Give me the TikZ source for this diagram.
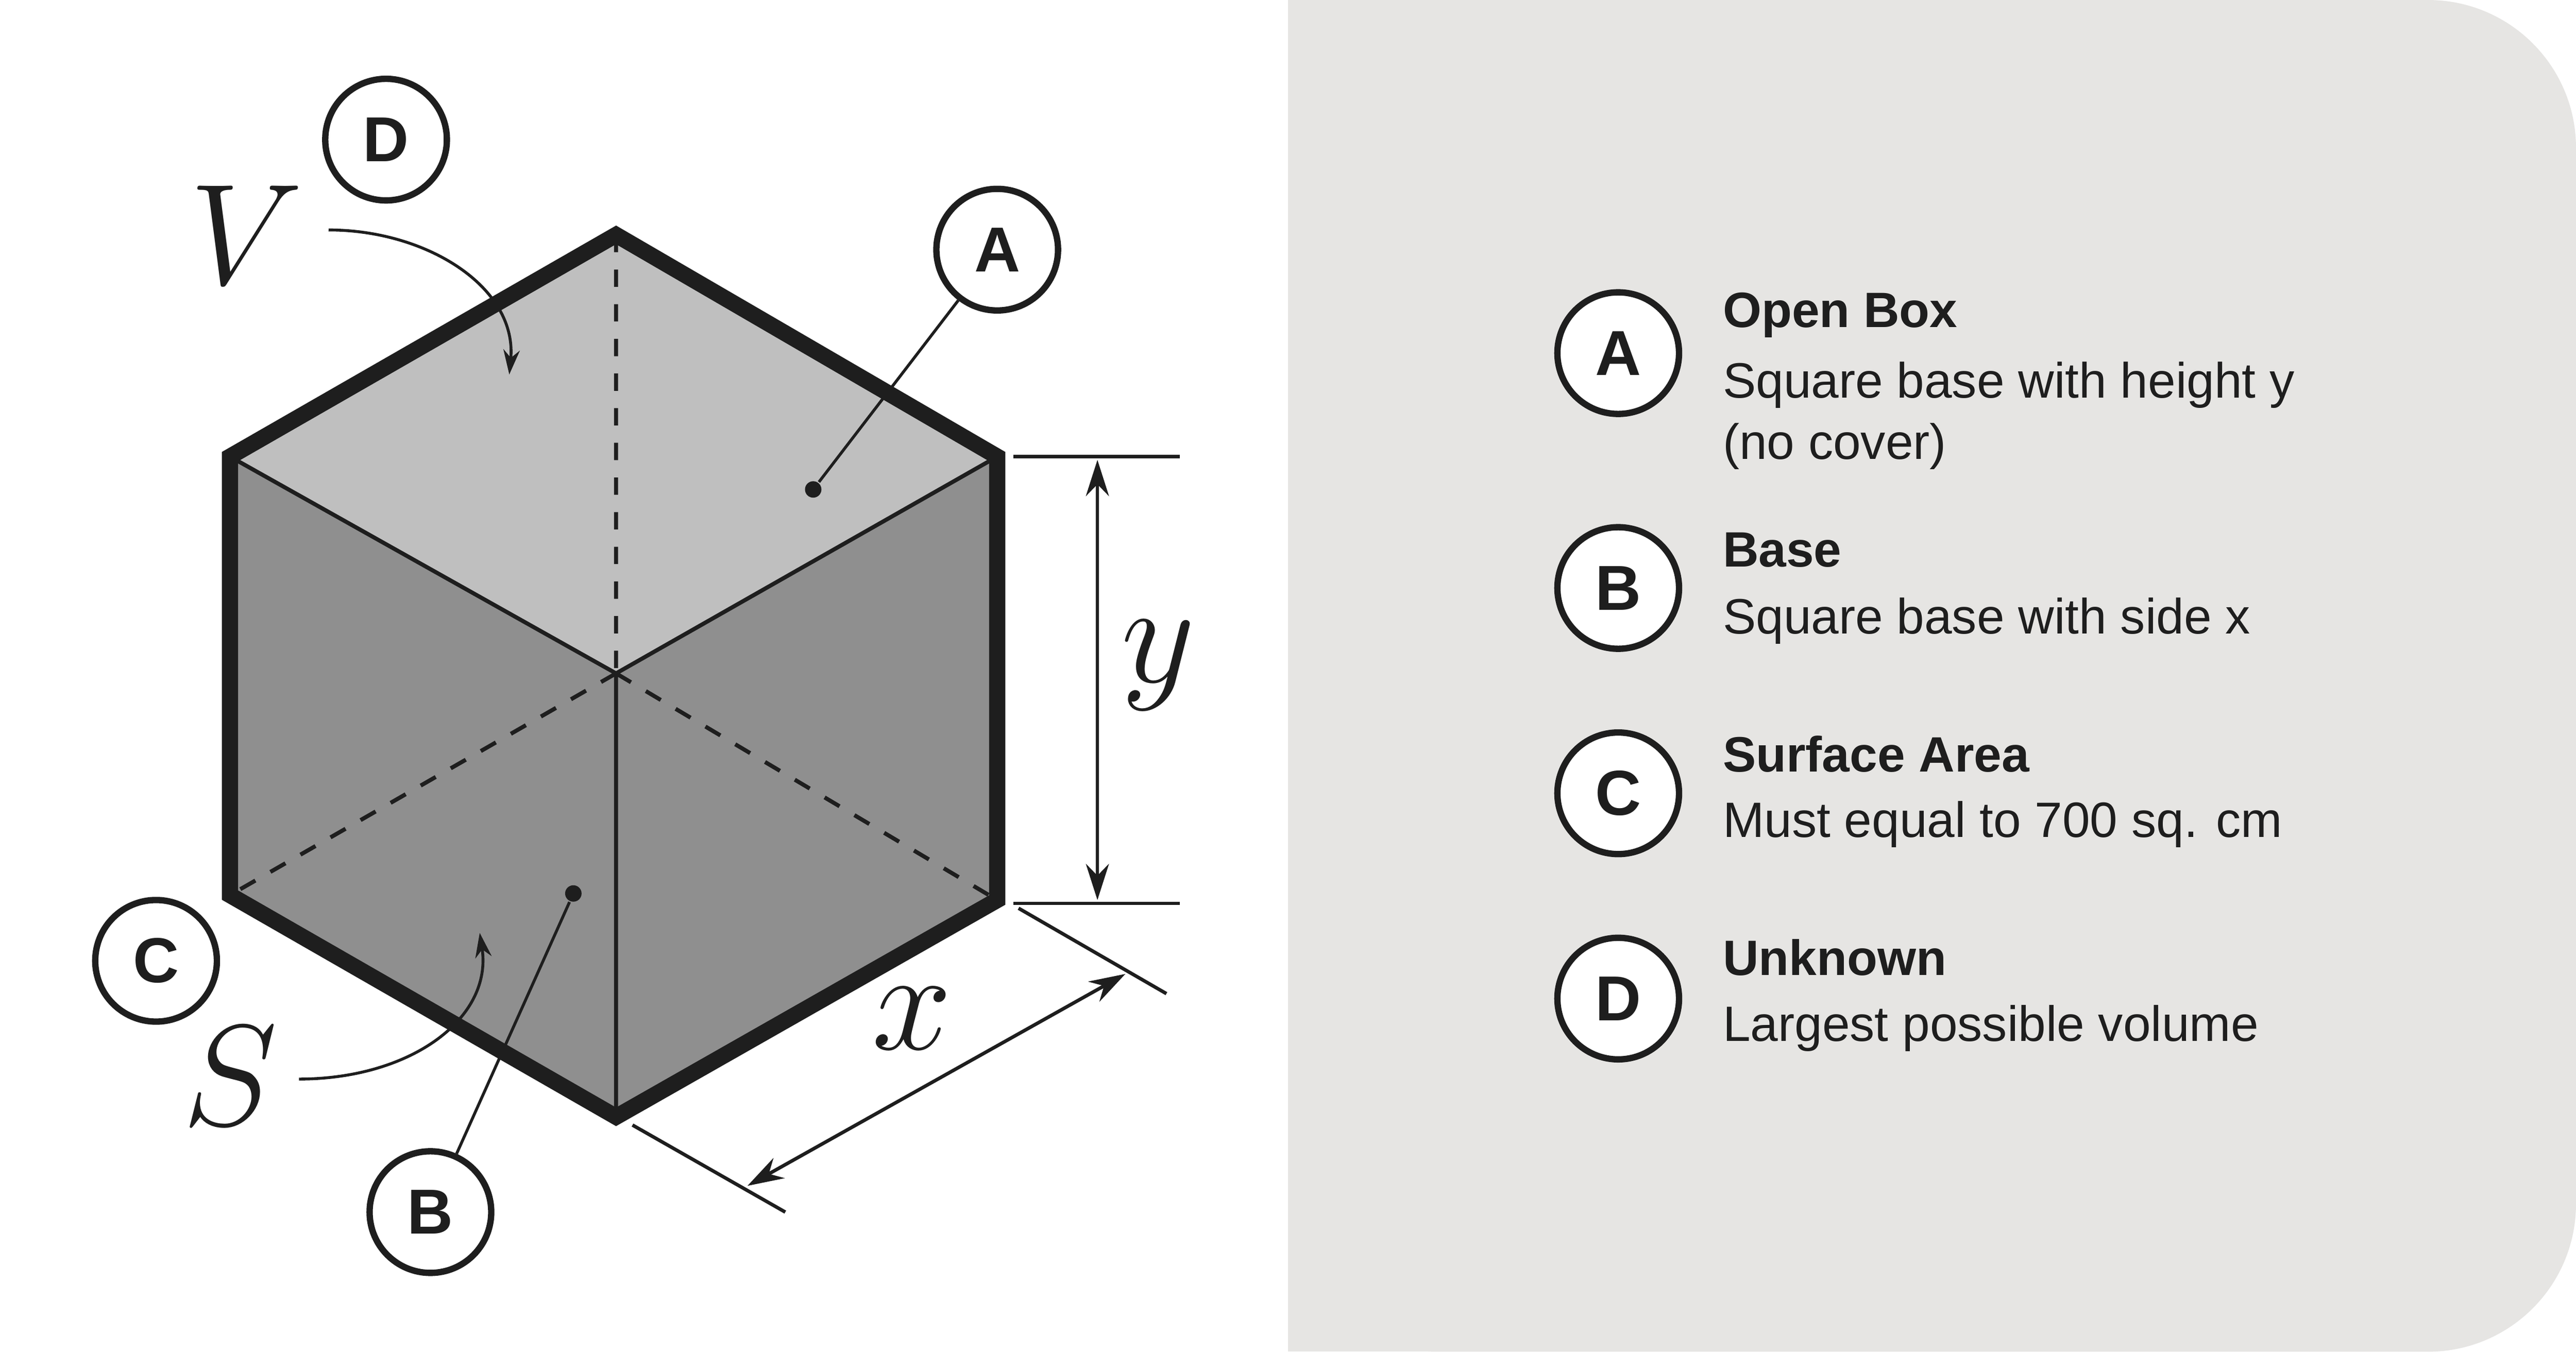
\documentclass[tikz,border=0pt]{standalone}
\usepackage{fontspec}
\setmainfont{Liberation Sans}
\usetikzlibrary{arrows.meta}
\definecolor{panel}{HTML}{E6E5E3}
\definecolor{ink}{HTML}{1E1E1E}
\begin{document}
\begin{tikzpicture}[x=0.01cm,y=-0.01cm,
  badge/.style={circle,draw=ink,line width=1.1pt,fill=white,minimum size=0.74cm,inner sep=0pt,font=\fontsize{11}{12}\selectfont\bfseries,text=ink},
  ttl/.style={anchor=west,font=\fontsize{8.6}{10}\selectfont\bfseries,text=ink,inner sep=0pt},
  sub/.style={anchor=west,font=\fontsize{8.6}{10.6}\selectfont,text=ink,inner sep=0pt,align=left},
  dot/.style={circle,fill=ink,inner sep=0pt,minimum size=0.1cm},
  dim/.style={line width=0.6pt,ink},
  big/.style={font=\fontsize{30}{32}\selectfont,text=ink}]
\useasboundingbox (0,0) rectangle (1568,823);
\fill[white] (0,0) rectangle (1568,823);
\fill[panel,rounded corners=0.9cm] (784,0) -- (1568,0) -- (1568,823) -- (784,823) -- cycle;
\fill[panel] (784,0) rectangle (1200,823);
% cube
\coordinate (T) at (375,143); \coordinate (UR) at (607,278); \coordinate (LR) at (607,548);
\coordinate (Bo) at (375,680); \coordinate (LL) at (140,545); \coordinate (UL) at (140,278);
\coordinate (Ce) at (375,410);
\fill[black!25] (T)--(UR)--(Ce)--(UL)--cycle;
\fill[black!44] (UL)--(Ce)--(UR)--(LR)--(Bo)--(LL)--cycle;
\draw[ink,line width=0.7pt,dashed] (T)--(Ce) (Ce)--(LL) (Ce)--(LR);
\draw[ink,line width=0.7pt] (UL)--(Ce)--(UR) (Ce)--(Bo);
\draw[ink,line width=2.8pt,line join=miter] (T)--(UR)--(LR)--(Bo)--(LL)--(UL)--cycle;
% y dimension
\coordinate (ya1) at (617,278); \coordinate (ya2) at (718,278);
\coordinate (yb1) at (617,550); \coordinate (yb2) at (718,550);
\draw[dim] (ya1)--(ya2) (yb1)--(yb2);
\coordinate (yt) at (668,280); \coordinate (yb) at (668,548);
\draw[dim,{Stealth[length=0.22cm,width=0.14cm]}-{Stealth[length=0.22cm,width=0.14cm]}] (yt)--(yb);
\node[font=\fontsize{24}{26}\selectfont,text=ink] (ylab) at (705,405) {$y$};
% x dimension
\coordinate (xa1) at (620,553); \coordinate (xa2) at (710,605);
\coordinate (xb1) at (385,685); \coordinate (xb2) at (478,738);
\draw[dim] (xa1)--(xa2) (xb1)--(xb2);
\coordinate (xs) at (685,593); \coordinate (xe) at (455,722);
\draw[dim,{Stealth[length=0.22cm,width=0.14cm]}-{Stealth[length=0.22cm,width=0.14cm]}] (xs)--(xe);
\node[font=\fontsize{24}{26}\selectfont,text=ink] (xlab) at (555,620) {$x$};
% badges on figure
\node[dot] (dA) at (495,298) {};
\node[dot] (dB) at (349,544) {};
\node[badge] (A) at (607,152) {A};
\node[badge] (D) at (235,85) {D};
\node[badge] (C) at (95,585) {C};
\node[badge] (B) at (262,738) {B};
\draw[ink,line width=0.5pt] (A)--(dA);
\draw[ink,line width=0.5pt] (B)--(dB);
\node[big] (V) at (150,143) {$V$};
\node[big] (S) at (140,655) {$S$};
\coordinate (vs) at (200,140); \coordinate (ve) at (310,228);
\draw[ink,line width=0.5pt,-{Stealth[length=0.15cm,width=0.1cm]}] (vs) .. controls (260,140) and (315,175) .. (ve);
\coordinate (ss) at (182,657); \coordinate (se) at (292,568);
\draw[ink,line width=0.5pt,-{Stealth[length=0.15cm,width=0.1cm]}] (ss) .. controls (250,657) and (300,620) .. (se);
% legend
\node[badge] (LA) at (985,215) {A};
\node[badge] (LB) at (985,358) {B};
\node[badge] (LC) at (985,483) {C};
\node[badge] (LD) at (985,608) {D};
\node[ttl] (tA) at (1048,192) {Open Box};
\node[sub] (sA) at (1048,253) {Square base with height y\\(no cover)};
\node[ttl] (tB) at (1048,335) {Base};
\node[sub] (sB) at (1048,378) {Square base with side x};
\node[ttl] (tC) at (1048,459) {Surface Area};
\node[sub] (sC) at (1048,502) {Must equal to 700 sq. cm};
\node[ttl] (tD) at (1048,583) {Unknown};
\node[sub] (sD) at (1048,626) {Largest possible volume};
\end{tikzpicture}
\end{document}
